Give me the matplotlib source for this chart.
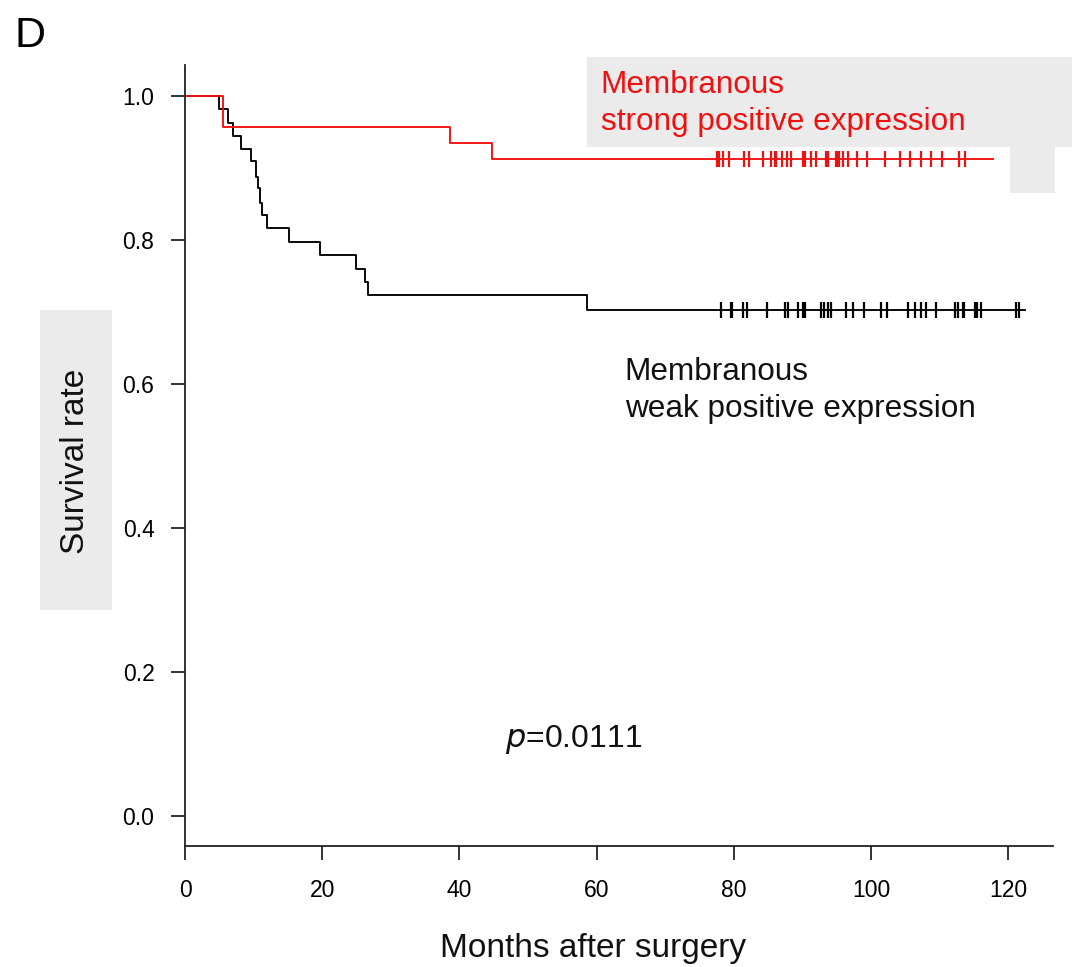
import matplotlib
matplotlib.use("Agg")
from matplotlib import pyplot as plt
from matplotlib.patches import Rectangle

plt.rcParams['font.family'] = ['Liberation Sans', 'DejaVu Sans']

# Kaplan-Meier steps (months, survival after the drop)
strong_times = [0, 5.6, 38.6, 44.8]
strong_surv = [1.0, 0.957, 0.935, 0.913]
strong_end = 117.8
strong_censor = [77.6, 77.8, 78.4, 79.3, 81.5, 82.2, 84.3, 85.4, 86.0, 86.2, 87.0, 87.7,
                 88.4, 90.1, 90.4, 91.3, 92.0, 93.5, 93.8, 94.9, 95.1, 95.4, 95.9, 96.7,
                 97.9, 99.4, 102.0, 104.2, 105.7, 107.3, 108.8, 110.4, 112.9, 113.7]

weak_times = [0, 5.0, 6.3, 7.0, 8.2, 9.6, 10.35, 10.7, 11.0, 11.2, 12.0, 15.1, 19.7,
              24.9, 26.2, 26.7, 58.6]
weak_surv = [1.0, 0.982, 0.963, 0.945, 0.926, 0.910, 0.888, 0.872, 0.852, 0.834, 0.816,
             0.797, 0.779, 0.760, 0.742, 0.724, 0.703]
weak_end = 122.4
weak_censor = [78.1, 79.6, 79.8, 81.4, 82.0, 84.9, 87.4, 87.9, 89.4, 90.1, 90.4, 92.7,
               93.2, 93.8, 94.2, 96.4, 97.4, 99.0, 101.4, 102.3, 105.4, 106.4, 107.3,
               108.1, 109.5, 112.2, 112.7, 113.4, 113.6, 115.1, 115.4, 116.1, 121.2, 121.6]

x_ticks = [0, 20, 40, 60, 80, 100, 120]
y_ticks = [0.0, 0.2, 0.4, 0.6, 0.8, 1.0]

W, H = 1072, 967
fig = plt.figure(figsize=(W / 100, H / 100), dpi=100)
ax = fig.add_axes([185 / W, 1 - 846 / H, (1052.7 - 185) / W, (846 - 65) / H])
ax.set_facecolor('none')


def px_rect(x0, y0, x1, y1):
    fig.add_artist(Rectangle((x0 / W, 1 - y1 / H), (x1 - x0) / W, (y1 - y0) / H,
                             transform=fig.transFigure, facecolor='#ebebeb',
                             edgecolor='none', zorder=-1))


def surv_at(times, surv, t):
    s = surv[0]
    for tt, ss in zip(times, surv):
        if t >= tt:
            s = ss
    return s


def km(times, surv, end, censor, color):
    ax.step(times + [end], surv + [surv[-1]], where='post', color=color, lw=1.35)
    ax.plot(censor, [surv_at(times, surv, c) for c in censor], ls='none', marker='|',
            ms=12, mew=1.6, color=color)


px_rect(587, 57, 1072, 147)
px_rect(1010, 136, 1055, 193)
px_rect(40, 310, 112, 610)

km(weak_times, weak_surv, weak_end, weak_censor, 'black')
km(strong_times, strong_surv, strong_end, strong_censor, '#ee1111')

ax.set_xlim(0, 126.5)
ax.set_ylim(-0.0417, 1.043)
ax.set_xticks(x_ticks)
ax.set_yticks(y_ticks)
ax.set_yticklabels([f'{v:.1f}' for v in y_ticks])
ax.tick_params(labelsize=16.5, length=10, width=1.3, color='#222222')
ax.tick_params(axis='x', pad=14)
ax.tick_params(axis='y', pad=12)
for side in ['top', 'right']:
    ax.spines[side].set_visible(False)
for side in ['left', 'bottom']:
    ax.spines[side].set_linewidth(1.3)
    ax.spines[side].set_color('#222222')

ax.text(60.6, 1.004, 'Membranous', color='#ee1111', fontsize=22.7, va='baseline')
ax.text(60.6, 0.953, 'strong positive expression', color='#ee1111', fontsize=22.7,
        va='baseline')
ax.text(64.1, 0.6056, 'Membranous', color='#111111', fontsize=22.7, va='baseline')
ax.text(64.1, 0.5546, 'weak positive expression', color='#111111', fontsize=22.7,
        va='baseline')
ax.text(46.6, 0.0963, r'$\mathit{p}$=0.0111', fontsize=23, va='baseline',
        color='#111111')

fig.text(593 / W, 1 - 957 / H, 'Months after surgery', fontsize=24, ha='center',
         va='baseline', color='#111111')
fig.text(76 / W, 1 - 461 / H, 'Survival rate', fontsize=24, rotation=90, ha='center',
         va='center', color='#111111')
fig.text(15 / W, 1 - 47 / H, 'D', fontsize=31, va='baseline')

fig.savefig('out.png', dpi=100)
